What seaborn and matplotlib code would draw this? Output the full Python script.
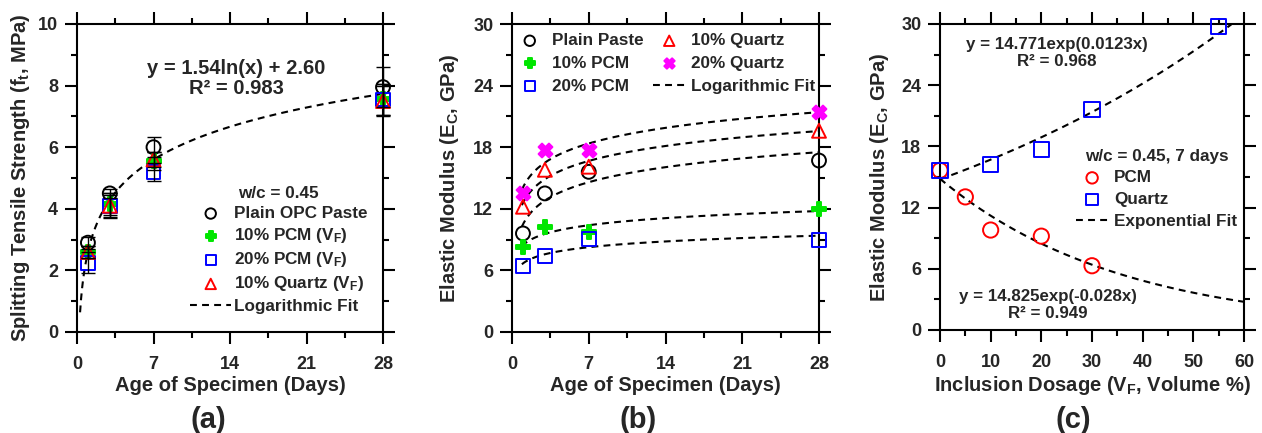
import numpy as np
import pandas as pd
import matplotlib
matplotlib.use('Agg')
import matplotlib.pyplot as plt
from matplotlib.ticker import MultipleLocator
import seaborn as sns

# ---------------- (a) splitting tensile strength vs age ----------------
age = [1, 3, 7, 28]
ft_plain = [2.9, 4.5, 6.0, 7.95]
ft_pcm10 = [2.6, 4.15, 5.55, 7.55]
ft_pcm20 = [2.25, 4.1, 5.2, 7.55]
ft_qz10 = [2.6, 4.1, 5.6, 7.5]
ft_plain_err = [0.2, 0.15, 0.33, 0.65]
ft_pcm10_err = [0.2, 0.35, 0.3, 0.5]
ft_pcm20_err = [0.35, 0.4, 0.3, 0.5]
ft_qz10_err = [0.2, 0.35, 0.25, 0.5]
ft_fit_coef = (1.54, 2.60)      # y = a ln(x) + b
ft_fit_span = (0.28, 28)

# ---------------- (b) elastic modulus vs age ----------------
ec_plain = [9.6, 13.5, 15.6, 16.7]
ec_pcm10 = [8.3, 10.2, 9.75, 11.95]
ec_pcm20 = [6.45, 7.4, 9.1, 8.95]
ec_qz10 = [12.2, 15.8, 16.1, 19.6]
ec_qz20 = [13.55, 17.7, 17.7, 21.4]
ec_fit_span = (0.9, 28)

# ---------------- (c) elastic modulus vs dosage (7 days) ----------------
dose_pcm = [0, 5, 10, 20, 30]
ec_dose_pcm = [15.65, 13.05, 9.8, 9.2, 6.3]
dose_qz = [0, 10, 20, 30, 55]
ec_dose_qz = [15.65, 16.2, 17.7, 21.65, 29.75]
exp_pcm = (14.825, -0.028)      # y = a exp(b x)
exp_qz = (14.771, 0.0123)
exp_pcm_span = (0, 60)
exp_qz_span = (0, 57.5)

BLACK, GREEN, BLUE, RED, MAGENTA = 'black', '#00e600', '#0000ff', '#ff0000', '#ff00ff'
DASH = (0, (3.3, 2.5))
TICK_FS, LABEL_FS, LEG_FS = 13, 14.5, 12.3

sns.set_theme(style='ticks')
plt.rcParams['font.family'] = ['Liberation Sans', 'DejaVu Sans']
plt.rcParams['font.weight'] = 'bold'
plt.rcParams['axes.labelweight'] = 'bold'
plt.rcParams['mathtext.fontset'] = 'custom'
plt.rcParams['mathtext.rm'] = 'Liberation Sans:bold'
plt.rcParams['mathtext.it'] = 'Liberation Sans:bold'
plt.rcParams['mathtext.bf'] = 'Liberation Sans:bold'
plt.rcParams['mathtext.default'] = 'rm'


def style_axes(ax, xmaj, ymaj, xlim, ylim):
    ax.set_xlim(*xlim)
    ax.set_ylim(*ylim)
    ax.xaxis.set_major_locator(MultipleLocator(xmaj))
    ax.xaxis.set_minor_locator(MultipleLocator(xmaj / 2))
    ax.yaxis.set_major_locator(MultipleLocator(ymaj))
    ax.yaxis.set_minor_locator(MultipleLocator(ymaj / 2))
    ax.tick_params(which='both', direction='out', top=True, right=True,
                   width=1.5, color='black', labelsize=TICK_FS)
    ax.tick_params(which='major', length=8.5)
    ax.tick_params(which='minor', length=4.5)
    ax.tick_params(axis='x', pad=9)
    ax.tick_params(axis='y', pad=5)
    for s in ax.spines.values():
        s.set_visible(True)
        s.set_linewidth(1.5)
        s.set_color('black')
    ax.set_facecolor('white')


def points(ax, x, y, marker, color, s, label, filled=False):
    fc = color if filled else 'none'
    return sns.scatterplot(x=x, y=y, ax=ax, marker=marker, s=s, color=color,
                           facecolor=fc, edgecolor=color, linewidth=1.4,
                           label=label, clip_on=False, zorder=3, legend=False)


def fit_line(ax, xs, ys, label=None):
    sns.lineplot(x=xs, y=ys, ax=ax, color='black', linewidth=1.5,
                 linestyle=DASH, label=label, zorder=2, legend=False,
                 estimator=None, sort=False)


fig = plt.figure(figsize=(12.62, 4.33), dpi=100)
fig.patch.set_facecolor('white')

# ---------------- panel (a) ----------------
ax = fig.add_axes([77 / 1262, 101 / 433, 306 / 1262, 308 / 433])
xf = np.linspace(*ft_fit_span, 300)
fit_line(ax, xf, ft_fit_coef[0] * np.log(xf) + ft_fit_coef[1])
series_a = [
    (ft_plain, ft_plain_err, 'o', BLACK, False, 'Plain OPC Paste'),
    (ft_pcm10, ft_pcm10_err, 'P', GREEN, True, '10% PCM (V$_F$)'),
    (ft_pcm20, ft_pcm20_err, 's', BLUE, False, '20% PCM (V$_F$)'),
    (ft_qz10, ft_qz10_err, '^', RED, False, '10% Quartz (V$_F$)'),
]
for y, err, m, c, f, lab in series_a:
    points(ax, age, y, m, c, 100, lab, f)
for y, err, m, c, f, lab in series_a:
    ax.errorbar(age, y, yerr=err, fmt='none', ecolor='black', elinewidth=1.0,
                capsize=5, capthick=1.0, zorder=4, clip_on=False)
style_axes(ax, 7, 2, (0, 28), (0, 10))
ax.set_xlabel('Age of Specimen (Days)', fontsize=LABEL_FS, labelpad=2)
ax.set_ylabel('Splitting Tensile Strength (f$_t$, MPa)', fontsize=LABEL_FS, labelpad=4.5)
ax.text(0.52, 0.822, 'y = 1.54ln(x) + 2.60\nR² = 0.983', transform=ax.transAxes,
        ha='center', va='center', fontsize=14.5, weight='bold', linespacing=1.05)
h, l = ax.get_legend_handles_labels()
order = [l.index(n) for n in ['Plain OPC Paste', '10% PCM (V$_F$)', '20% PCM (V$_F$)',
                               '10% Quartz (V$_F$)']]
hs = [h[i] for i in order]
ls = [l[i] for i in order]
fh = plt.Line2D([], [], color='black', lw=1.5, linestyle=DASH)
ax.legend(hs + [fh], ls + ['Logarithmic Fit'], title='w/c = 0.45', loc='lower left',
          bbox_to_anchor=(0.37, 0.06), frameon=False, fontsize=LEG_FS,
          title_fontproperties={'weight': 'bold', 'size': LEG_FS},
          borderpad=0, borderaxespad=0, handlelength=2.4, handletextpad=0.15,
          labelspacing=0.3, markerscale=0.75)

# ---------------- panel (b) ----------------
ax = fig.add_axes([512 / 1262, 101 / 433, 307 / 1262, 308 / 433])
series_b = [
    (ec_plain, 'o', BLACK, False, 'Plain Paste'),
    (ec_pcm10, 'P', GREEN, True, '10% PCM'),
    (ec_pcm20, 's', BLUE, False, '20% PCM'),
    (ec_qz10, '^', RED, False, '10% Quartz'),
    (ec_qz20, 'X', MAGENTA, True, '20% Quartz'),
]
xb = np.linspace(*ec_fit_span, 300)
for y, m, c, f, lab in series_b:
    k, b0 = np.polyfit(np.log(age), y, 1)
    fit_line(ax, xb, k * np.log(xb) + b0)
for y, m, c, f, lab in series_b:
    points(ax, age, y, m, c, 100, lab, f)
style_axes(ax, 7, 6, (0, 28), (0, 30))
ax.set_xlabel('Age of Specimen (Days)', fontsize=LABEL_FS, labelpad=2)
ax.set_ylabel('Elastic Modulus (E$_C$, GPa)', fontsize=LABEL_FS, labelpad=9)
h, l = ax.get_legend_handles_labels()
names_b = [s[-1] for s in series_b]
hs = [h[l.index(n)] for n in names_b]
ax.legend(hs + [fh], names_b + ['Logarithmic Fit'], ncol=2, loc='upper left',
          bbox_to_anchor=(0.005, 0.97), frameon=False, fontsize=LEG_FS,
          borderpad=0, borderaxespad=0, handlelength=1.9, handletextpad=0.35,
          labelspacing=0.45, columnspacing=0.55, markerscale=0.75)

# ---------------- panel (c) ----------------
ax = fig.add_axes([940 / 1262, 103 / 433, 304 / 1262, 306 / 433])
xp = np.linspace(*exp_pcm_span, 300)
xq = np.linspace(*exp_qz_span, 300)
fit_line(ax, xp, exp_pcm[0] * np.exp(exp_pcm[1] * xp))
fit_line(ax, xq, exp_qz[0] * np.exp(exp_qz[1] * xq))
points(ax, dose_pcm, ec_dose_pcm, 'o', RED, 120, 'PCM')
points(ax, dose_qz, ec_dose_qz, 's', BLUE, 120, 'Quartz')
style_axes(ax, 10, 6, (0, 60), (0, 30))
ax.set_xlabel('Inclusion Dosage (V$_F$, Volume %)', fontsize=LABEL_FS, labelpad=2)
ax.set_ylabel('Elastic Modulus (E$_C$, GPa)', fontsize=LABEL_FS, labelpad=7)
ax.text(0.385, 0.905, 'y = 14.771exp(0.0123x)\nR² = 0.968', transform=ax.transAxes,
        ha='center', va='center', fontsize=12.2, weight='bold', linespacing=1.15)
ax.text(0.355, 0.082, 'y = 14.825exp(-0.028x)\nR² = 0.949', transform=ax.transAxes,
        ha='center', va='center', fontsize=12.2, weight='bold', linespacing=1.15)
h, l = ax.get_legend_handles_labels()
hs = [h[l.index(n)] for n in ['PCM', 'Quartz']]
ax.legend(hs + [fh], ['PCM', 'Quartz', 'Exponential Fit'], title='w/c = 0.45, 7 days',
          loc='lower left', bbox_to_anchor=(0.447, 0.33), frameon=False, fontsize=LEG_FS,
          title_fontproperties={'weight': 'bold', 'size': LEG_FS},
          borderpad=0, borderaxespad=0, handlelength=1.9, handletextpad=0.35,
          labelspacing=0.4, markerscale=0.75)

for xc, txt in [(208, '(a)'), (638, '(b)'), (1073, '(c)')]:
    fig.text(xc / 1262, 1 - 420 / 433, txt, ha='center', va='center',
             fontsize=21, weight='bold')

fig.savefig('out.png', dpi=100, facecolor='white')
